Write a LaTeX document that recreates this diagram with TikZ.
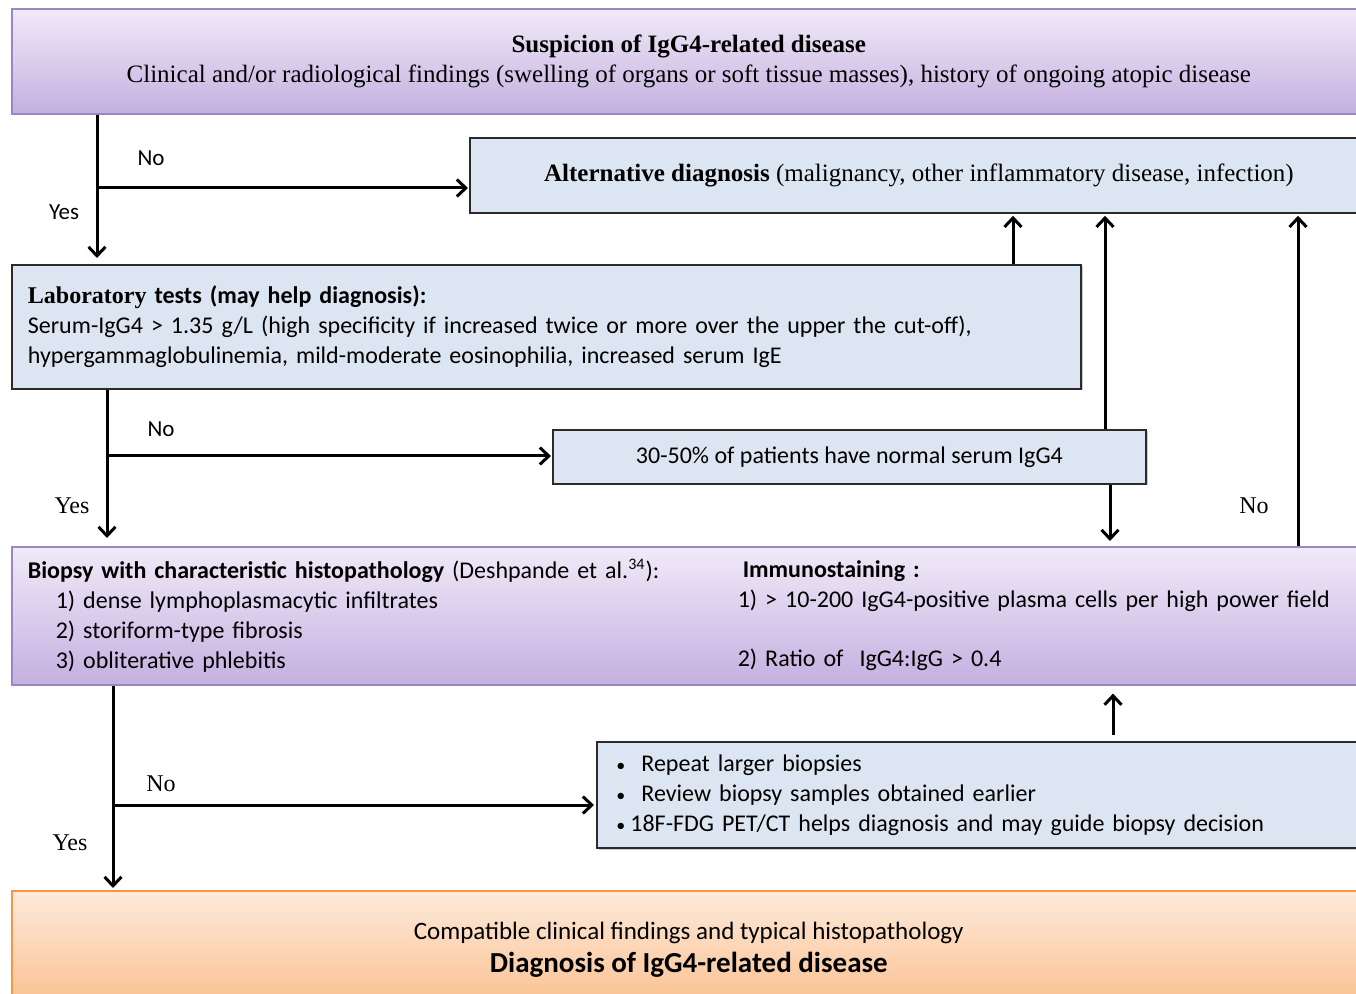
\documentclass[tikz,border=0pt]{standalone}
\usepackage{fontspec}
\setmainfont{Liberation Serif}
\newfontfamily\calfont{Carlito}
\usetikzlibrary{arrows.meta,shadows}

\definecolor{purTop}{HTML}{F0EAF8}
\definecolor{purBot}{HTML}{C4B0E0}
\definecolor{purLine}{HTML}{9B86C4}
\definecolor{bluFill}{HTML}{DCE6F2}
\definecolor{bluLine}{HTML}{2B2B2B}
\definecolor{orTop}{HTML}{FDEADB}
\definecolor{orBot}{HTML}{FAC08F}
\definecolor{orLine}{HTML}{F79646}

\newcommand{\smbul}{{\fontsize{9}{9}\selectfont •}}

\tikzset{
 boxbase/.style={rectangle, anchor=north west, inner sep=0pt,
   drop shadow={shadow xshift=0.8pt, shadow yshift=-0.8pt, opacity=0.35, fill=black!60}},
 purbox/.style={boxbase, draw=purLine, line width=0.8pt, top color=purTop, bottom color=purBot},
 blubox/.style={boxbase, draw=bluLine, line width=0.9pt, fill=bluFill},
 orbox/.style={boxbase, draw=orLine, line width=0.8pt, top color=orTop, bottom color=orBot},
 arr/.style={line width=1.5pt, -{Straight Barb[length=4.5pt,width=8.5pt,line width=1.5pt]}},
 lbl/.style={inner sep=0pt},
 sanslbl/.style={lbl, font=\calfont\fontsize{11.5}{13}\selectfont},
 seriflbl/.style={lbl, font=\fontsize{12}{13}\selectfont},
}

\begin{document}
\begin{tikzpicture}[x=0.5pt,y=-0.5pt]
\useasboundingbox (0,0) rectangle (1356,994);
\begin{scope}
\clip (0,0) rectangle (1356,994);

% boxes
\node[purbox, minimum width=677pt, minimum height=52.5pt, align=center,
      font=\fontsize{12.5}{15}\selectfont] (top) at (11,8)
  {\textbf{Suspicion of IgG4-related disease}\\
   Clinical and/or radiological findings (swelling of organs or soft tissue masses), history of ongoing atopic disease};

\node[blubox, minimum width=449pt, minimum height=37.5pt, align=center,
      font=\fontsize{12.5}{15}\selectfont] (alt) at (469,137)
  {\textbf{Alternative diagnosis} (malignancy, other inflammatory disease, infection)};

\node[blubox, minimum width=534.5pt, minimum height=62pt, inner xsep=8pt,
      text width=518.5pt, align=left, font=\calfont\fontsize{12}{15}\selectfont] (lab) at (11,264)
  {{\rmfamily\bfseries Laboratory} \textbf{tests (may help diagnosis):}\\
   Serum-IgG4 > 1.35 g/L (high specificity if increased twice or more over the upper the cut-off),\\
   hypergammaglobulinemia, mild-moderate eosinophilia, increased serum IgE};

\node[blubox, minimum width=296.5pt, minimum height=27pt, align=center,
      font=\calfont\fontsize{12}{15}\selectfont] (nor) at (552,429)
  {30-50\% of patients have normal serum IgG4};

\node[purbox, minimum width=677pt, minimum height=69pt, inner xsep=8pt,
      text width=661pt, align=left, font=\calfont\fontsize{12}{15}\selectfont] (bio) at (11,546)
  {\begin{minipage}[c]{355pt}
   \textbf{Biopsy with characteristic histopathology} (Deshpande et al.\textsuperscript{34}):\\
   \hspace*{14pt}1) dense lymphoplasmacytic infiltrates\\
   \hspace*{14pt}2) storiform-type fibrosis\\
   \hspace*{14pt}3) obliterative phlebitis
   \end{minipage}%
   \begin{minipage}[c]{306pt}
   \hspace*{2.5pt}\textbf{Immunostaining :}\\
   1) > 10-200 IgG4-positive plasma cells per high power field\\[14.5pt]
   2) Ratio of \ IgG4:IgG > 0.4
   \end{minipage}};

\node[blubox, minimum width=384.5pt, minimum height=53pt, inner xsep=9.5pt,
      text width=365pt, align=left, font=\calfont\fontsize{12}{15}\selectfont] (rep) at (596,741)
  {\makebox[12.5pt][l]{\smbul}Repeat larger biopsies\\
   \makebox[12.5pt][l]{\smbul}Review biopsy samples obtained earlier\\
   \makebox[7pt][l]{\smbul}18F-FDG PET/CT helps diagnosis and may guide biopsy decision};

\node[orbox, minimum width=677pt, minimum height=59pt, align=center,
      font=\calfont] (bot) at (11,890)
  {{\fontsize{12.5}{16}\selectfont Compatible clinical findings and typical histopathology}\\[3pt]
   {\fontsize{14.5}{16}\selectfont\bfseries Diagnosis of IgG4-related disease}};

% branch points and columns
\coordinate (b1) at (97,188);
\coordinate (b2) at (107,456);
\coordinate (b3) at (113,805);
\coordinate (u1) at (1013,0);
\coordinate (u2) at (1105,0);
\coordinate (d1) at (1110,0);
\coordinate (u3) at (1298,0);
\coordinate (u4) at (1113,0);

% connectors
\draw[arr, shorten >=3pt] (top.south -| b1) -- (lab.north -| b1);
\draw[arr, shorten >=0.5pt] (b1) -- (b1 -| alt.west);
\draw[arr, shorten >=4pt] (lab.south -| b2) -- (bio.north -| b2);
\draw[arr, shorten >=0.5pt] (b2) -- (b2 -| nor.west);
\draw[arr, shorten >=1pt] (lab.north -| u1) -- (alt.south -| u1);
\draw[arr, shorten >=1pt] (nor.north -| u2) -- (alt.south -| u2);
\draw[arr, shorten >=2.5pt] (nor.south -| d1) -- (bio.north -| d1);
\draw[arr, shorten >=1pt] (bio.north -| u3) -- (alt.south -| u3);
\draw[arr, shorten >=1pt] (bio.south -| b3) -- (bot.north -| b3);
\draw[arr, shorten >=1pt] (b3) -- (b3 -| rep.west);
\draw[arr, shorten <=3pt, shorten >=4pt] (rep.north -| u4) -- (bio.south -| u4);

% labels
\node[sanslbl] (no1) at (151,158) {No};
\node[sanslbl] (yes1) at (64,212) {Yes};
\node[sanslbl] (no2) at (161,429) {No};
\node[seriflbl] (yes2) at (72,506) {Yes};
\node[seriflbl] (no3) at (1254,506) {No};
\node[seriflbl] (no4) at (161,784) {No};
\node[seriflbl] (yes3) at (70,843) {Yes};
\end{scope}
\end{tikzpicture}
\end{document}
